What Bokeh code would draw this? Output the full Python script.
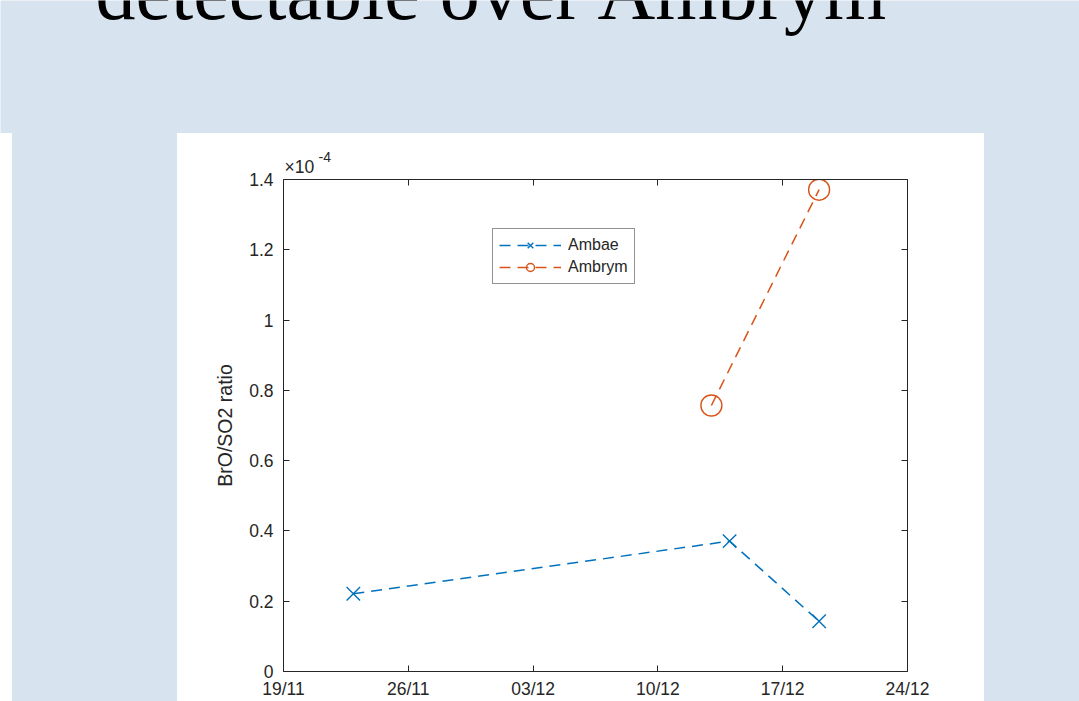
import pandas as pd
from bokeh.plotting import figure
from bokeh.layouts import column, row
from bokeh.models import (Range1d, LinearAxis, FixedTicker, DatetimeTickFormatter,
                          Legend, LegendItem, Div, Title, CustomLabelingPolicy)
from bokeh.core.properties import value
from bokeh.embed import file_html
from bokeh.resources import INLINE

# ---------------- data ----------------
slide_title = "detectable over Ambrym"
y_label = "BrO/SO2 ratio"
y_exponent = -4
exponent_base = "\u00d710"
exponent_power = "-4"

ambae_dates = ["2017-11-22 22:00", "2017-12-14 00:30", "2017-12-19 01:00"]
ambae_ratio = [0.221e-4, 0.371e-4, 0.143e-4]
ambrym_dates = ["2017-12-13 00:00", "2017-12-19 01:00"]
ambrym_ratio = [0.757e-4, 1.371e-4]

x_tick_dates = ["2017-11-19", "2017-11-26", "2017-12-03", "2017-12-10", "2017-12-17", "2017-12-24"]
x_tick_labels = ["19/11", "26/11", "03/12", "10/12", "17/12", "24/12"]
y_ticks = [0, 0.2, 0.4, 0.6, 0.8, 1.0, 1.2, 1.4]
y_tick_labels = ["0", "0.2", "0.4", "0.6", "0.8", "1", "1.2", "1.4"]

# ---------------- style ----------------
BLUE_BG = "#d7e4f0"
AX = "#262626"
C_AMBAE = "#0072bd"
C_AMBRYM = "#d95319"
FONT = "Liberation Sans"
TICK_SIZE = "17.5px"


def to_ms(s):
    return pd.Timestamp(s).value / 1e6


scale = 10 ** (-y_exponent)
x_ticks_ms = [to_ms(d) for d in x_tick_dates]

# ---------------- title band ----------------
tb = figure(width=1079, height=133, x_range=Range1d(0, 1079), y_range=Range1d(133, 0),
            output_backend="svg", toolbar_location=None, min_border=0,
            x_axis_location=None, y_axis_location=None,
            background_fill_color=BLUE_BG, border_fill_color=BLUE_BG, outline_line_color=None)
tb.grid.visible = False
tb.text(x=[95], y=[-9], text=[slide_title], text_font=value("Liberation Serif"),
        text_font_size="80px", text_baseline="alphabetic", text_align="left", text_color="black")

# ---------------- chart ----------------
# the figure title carries the exponent (-4); a second title "x10" sits just above the frame
p = figure(width=807, height=568, x_axis_type="datetime",
           x_range=Range1d(x_ticks_ms[0], x_ticks_ms[-1]), y_range=Range1d(y_ticks[0], y_ticks[-1]),
           output_backend="svg", toolbar_location=None, title=exponent_power,
           min_border_left=106, min_border_right=77, min_border_top=46, min_border_bottom=30,
           background_fill_color="white", border_fill_color="white",
           outline_line_color=None)
p.xgrid.visible = False
p.ygrid.visible = False

p.title.text_font = FONT
p.title.text_font_size = "14px"
p.title.text_font_style = "normal"
p.title.text_color = AX
p.title.align = "left"
p.title.offset = 35
p.title.standoff = -12

hide_all = CustomLabelingPolicy(code="""
    const idx = [...indices]
    for (const i of idx) indices.unset(i)
    return indices
""")


def style_axis(ax, show_labels=True):
    ax.axis_line_color = AX
    ax.axis_line_width = 1
    ax.major_tick_line_color = AX
    ax.major_tick_in = 6
    ax.major_tick_out = 0
    ax.minor_tick_line_color = None
    ax.major_label_text_font = FONT
    ax.major_label_text_color = AX
    if show_labels:
        ax.major_label_text_font_size = TICK_SIZE
    else:
        ax.major_label_text_font_size = "1px"
        ax.major_label_standoff = 0
        ax.major_label_policy = hide_all


xa = p.xaxis[0]
xa.ticker = FixedTicker(ticks=x_ticks_ms)
xa.formatter = DatetimeTickFormatter(days="%d/%m", months="%d/%m", hours="%d/%m", years="%d/%m")
xa.major_label_overrides = {t: l for t, l in zip(x_ticks_ms, x_tick_labels)}
style_axis(xa)
xa.major_label_standoff = 7

ya = p.yaxis[0]
ya.ticker = FixedTicker(ticks=y_ticks)
ya.major_label_overrides = {t: l for t, l in zip(y_ticks, y_tick_labels)}
style_axis(ya)
ya.major_label_standoff = 10
ya.axis_label = y_label
ya.axis_label_text_font = FONT
ya.axis_label_text_font_size = "19.5px"
ya.axis_label_text_font_style = "normal"
ya.axis_label_text_color = AX
ya.axis_label_standoff = 10

top_ax = LinearAxis(ticker=FixedTicker(ticks=x_ticks_ms))
style_axis(top_ax, show_labels=False)
p.add_layout(top_ax, "above")

right_ax = LinearAxis(ticker=FixedTicker(ticks=y_ticks))
style_axis(right_ax, show_labels=False)
p.add_layout(right_ax, "right")

base_title = Title(text=exponent_base, align="left", offset=1, standoff=-2,
                   text_font=FONT, text_font_size=TICK_SIZE, text_font_style="normal",
                   text_color=AX)
p.add_layout(base_title, "above")

ambae_x = [pd.Timestamp(d) for d in ambae_dates]
ambae_y = [v * scale for v in ambae_ratio]
ambrym_x = [pd.Timestamp(d) for d in ambrym_dates]
ambrym_y = [v * scale for v in ambrym_ratio]

l1 = p.line(ambae_x, ambae_y, line_color=C_AMBAE, line_width=1.5, line_dash="11 7")
s1 = p.scatter(ambae_x, ambae_y, marker="x", size=19, line_color=C_AMBAE, line_width=1.4)
l2 = p.line(ambrym_x, ambrym_y, line_color=C_AMBRYM, line_width=1.5, line_dash="11 7")
s2 = p.scatter(ambrym_x, ambrym_y, marker="circle", size=21, line_color=C_AMBRYM,
               fill_color=None, line_width=1.4)

legend = Legend(items=[LegendItem(label="Ambae", renderers=[l1, s1]),
                       LegendItem(label="Ambrym", renderers=[l2, s2])],
                location=(209, 387), margin=0, padding=6, spacing=2,
                glyph_width=62, glyph_height=20, label_height=20, label_standoff=7,
                label_text_font=FONT, label_text_font_size="16px", label_text_color=AX,
                border_line_color=AX, border_line_width=1, background_fill_color="white",
                background_fill_alpha=1)
p.add_layout(legend)

# ---------------- slide layout ----------------
white_strip = Div(width=12, height=568, margin=0)
left_blue = Div(width=165, height=568, margin=0, styles={"background-color": BLUE_BG})
right_blue = Div(width=95, height=568, margin=0, styles={"background-color": BLUE_BG})

layout = column(tb, row(white_strip, left_blue, p, right_blue, spacing=0), spacing=0)

open("out.html", "w").write(file_html(layout, INLINE))
